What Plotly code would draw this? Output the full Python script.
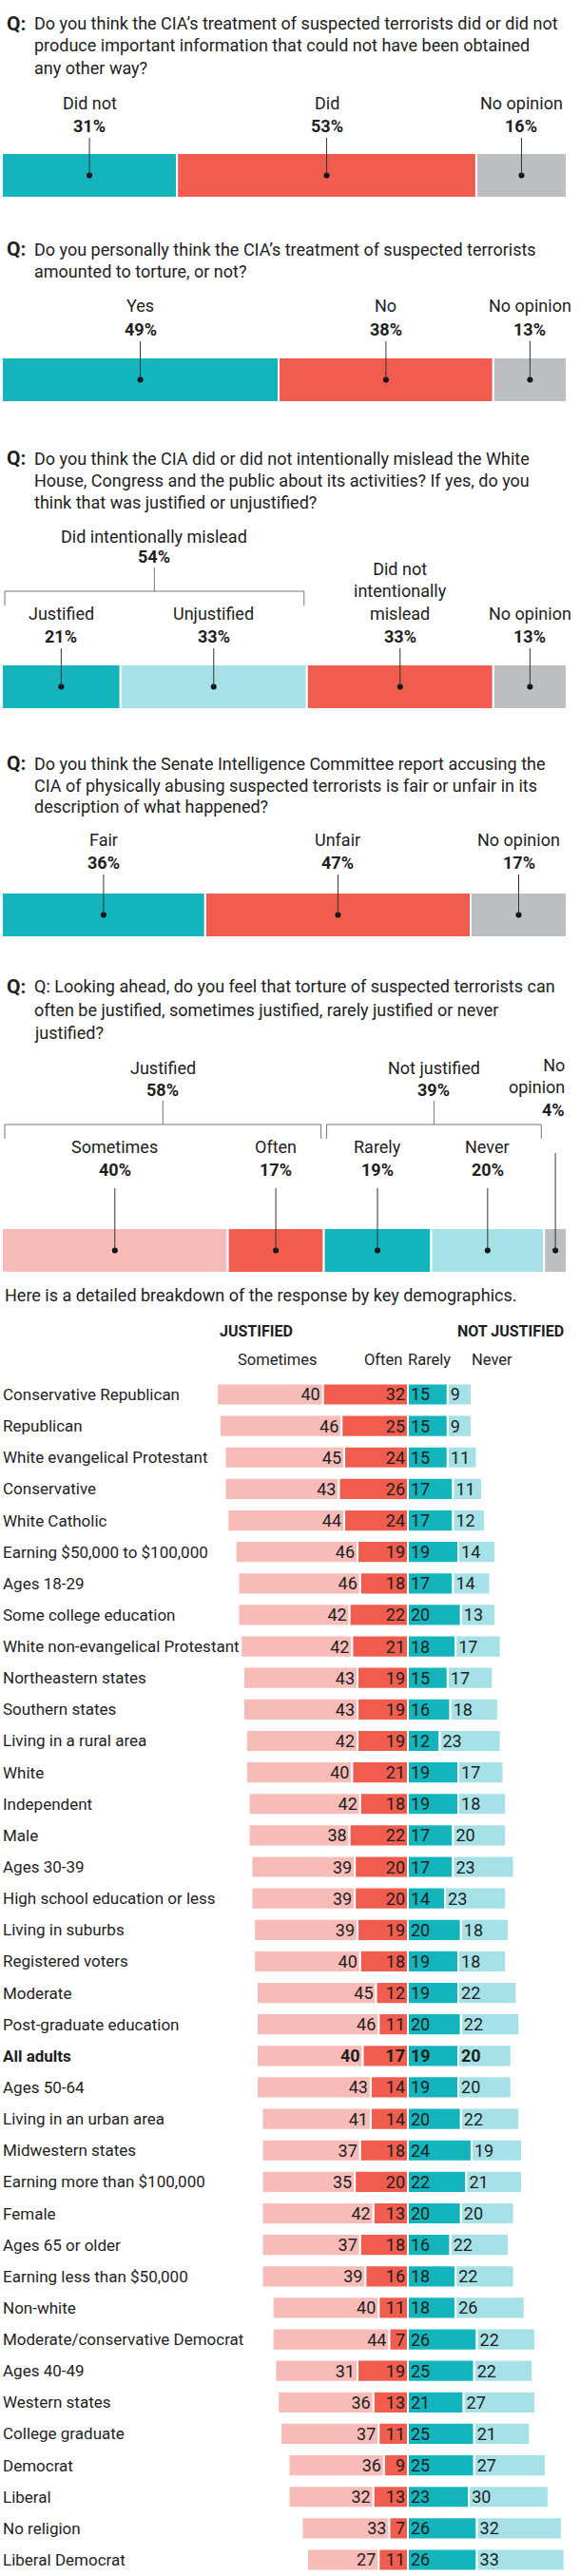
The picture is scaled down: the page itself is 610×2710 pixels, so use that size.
import plotly.graph_objects as go

W, H = 610, 2710
TEAL = "#14b4bc"
RED = "#f05d4f"
GRAY = "#bdbec2"
LTEAL = "#a5e1e6"
PINK = "#f7bbb8"
INK = "#1e1e1e"
LINE = "#333333"
FONT = "Roboto, Liberation Sans, Arial, sans-serif"

# ---------------- data ----------------
q1_lines = ["Do you think the CIA\u2019s treatment of suspected terrorists did or did not",
            "produce important information that could not have been obtained",
            "any other way?"]
q1_cats = ["Did not", "Did", "No opinion"]
q1_vals = [31, 53, 16]

q2_lines = ["Do you personally think the CIA\u2019s treatment of suspected terrorists",
            "amounted to torture, or not?"]
q2_cats = ["Yes", "No", "No opinion"]
q2_vals = [49, 38, 13]

q3_lines = ["Do you think the CIA did or did not intentionally mislead the White",
            "House, Congress and the public about its activities? If yes, do you",
            "think that was justified or unjustified?"]
q3_cats = ["Justified", "Unjustified", "Did not<br>intentionally<br>mislead", "No opinion"]
q3_vals = [21, 33, 33, 13]
q3_group_names = ["Did intentionally mislead"]
q3_group_vals = [54]

q4_lines = ["Do you think the Senate Intelligence Committee report accusing the",
            "CIA of physically abusing suspected terrorists is fair or unfair in its",
            "description of what happened?"]
q4_cats = ["Fair", "Unfair", "No opinion"]
q4_vals = [36, 47, 17]

q5_lines = ["Q: Looking ahead, do you feel that torture of suspected terrorists can",
            "often be justified, sometimes justified, rarely justified or never",
            "justified?"]
q5_cats = ["Sometimes", "Often", "Rarely", "Never", "No<br>opinion"]
q5_vals = [40, 17, 19, 20, 4]
q5_group_names = ["Justified", "Not justified"]
q5_group_vals = [58, 39]

intro = "Here is a detailed breakdown of the response by key demographics."
table_headers = ["JUSTIFIED", "NOT JUSTIFIED"]
table_sub = ["Sometimes", "Often", "Rarely", "Never"]

demo_labels = ["Conservative Republican", "Republican", "White evangelical Protestant",
               "Conservative", "White Catholic", "Earning $50,000 to $100,000", "Ages 18-29",
               "Some college education", "White non-evangelical Protestant",
               "Northeastern states", "Southern states", "Living in a rural area", "White",
               "Independent", "Male", "Ages 30-39", "High school education or less",
               "Living in suburbs", "Registered voters", "Moderate", "Post-graduate education",
               "All adults", "Ages 50-64", "Living in an urban area", "Midwestern states",
               "Earning more than $100,000", "Female", "Ages 65 or older",
               "Earning less than $50,000", "Non-white", "Moderate/conservative Democrat",
               "Ages 40-49", "Western states", "College graduate", "Democrat", "Liberal",
               "No religion", "Liberal Democrat"]
sometimes = [40, 46, 45, 43, 44, 46, 46, 42, 42, 43, 43, 42, 40, 42, 38, 39, 39, 39, 40, 45,
             46, 40, 43, 41, 37, 35, 42, 37, 39, 40, 44, 31, 36, 37, 36, 32, 33, 27]
often = [32, 25, 24, 26, 24, 19, 18, 22, 21, 19, 19, 19, 21, 18, 22, 20, 20, 19, 18, 12,
         11, 17, 14, 14, 18, 20, 13, 18, 16, 11, 7, 19, 13, 11, 9, 13, 7, 11]
rarely = [15, 15, 15, 17, 17, 19, 17, 20, 18, 15, 16, 12, 19, 19, 17, 17, 14, 20, 19, 19,
          20, 19, 19, 20, 24, 22, 20, 16, 18, 18, 26, 25, 21, 25, 25, 23, 26, 26]
never = [9, 9, 11, 11, 12, 14, 14, 13, 17, 17, 18, 23, 17, 18, 20, 23, 23, 18, 18, 22,
         22, 20, 20, 22, 19, 21, 20, 22, 22, 26, 22, 22, 27, 21, 27, 30, 32, 33]
highlight = "All adults"


def py(y):
    return 1 - y / H


def pxn(x):
    return x / W


fig = go.Figure()
annotations = []
shapes = []
layout_axes = {}


def add_text(text, x, y, size=18, bold=False, xanchor="center", yanchor="middle",
             xref="paper", yref="paper", align="center", color=INK):
    if bold:
        text = "<b>" + text.replace("<br>", "</b><br><b>") + "</b>"
    annotations.append(dict(text=text, x=x, y=y, xref=xref, yref=yref, xanchor=xanchor,
                            yanchor=yanchor, showarrow=False, align=align,
                            font=dict(family=FONT, size=size, color=color)))


def add_question(n, lines, line_ys, cats, vals, colors, pct_y, leader_top, bar_top, bar_bot,
                 groups=None, overrides=None):
    xa = "x" if n == 1 else f"x{n}"
    ya = "y" if n == 1 else f"y{n}"
    layout_axes["xaxis" if n == 1 else f"xaxis{n}"] = dict(
        domain=[pxn(2), pxn(596)], range=[0, 100], visible=False, fixedrange=True,
        anchor=ya)
    layout_axes["yaxis" if n == 1 else f"yaxis{n}"] = dict(
        domain=[py(bar_bot + 1), py(bar_top - 1)], range=[-0.5, 0.5], visible=False,
        fixedrange=True, anchor=xa)
    # question text
    add_text("Q:", pxn(5), py(line_ys[0]), size=21, bold=True, xanchor="left")
    for ln, ly in zip(lines, line_ys):
        add_text(ln, pxn(34), py(ly), size=18, xanchor="left", align="left")
    # bars
    starts = []
    acc = 0
    for v in vals:
        starts.append(acc)
        acc += v
    centers = [s + v / 2 for s, v in zip(starts, vals)]
    for c, v, s, col in zip(cats, vals, starts, colors):
        fig.add_trace(go.Bar(x=[v], y=[0], base=[s], orientation="h", width=1,
                             marker=dict(color=col, line=dict(color="white", width=2)),
                             xaxis=xa, yaxis=ya, showlegend=False, hoverinfo="skip"))
    fig.add_trace(go.Scatter(x=centers, y=[0] * len(centers), mode="markers",
                             marker=dict(color="#111", size=6), xaxis=xa, yaxis=ya,
                             showlegend=False, hoverinfo="skip"))
    overrides = overrides or {}
    for i, (c, v, cx) in enumerate(zip(cats, vals, centers)):
        o = overrides.get(i, {})
        p_y = o.get("pct_y", pct_y)
        l_top = o.get("leader_top", leader_top)
        xanchor = o.get("xanchor", "center")
        lx = o.get("label_x", cx)
        nlines = c.count("<br>") + 1
        cat_center = p_y - 24 - (nlines - 1) * 23.4 / 2
        add_text(c, lx, py(cat_center), size=18, xanchor=xanchor, xref=xa,
                 align="right" if xanchor == "right" else "center")
        add_text(f"{v}%", lx, py(p_y), size=18, bold=True, xanchor=xanchor, xref=xa)
        dot_y = (bar_top + bar_bot) / 2
        shapes.append(dict(type="line", xref=xa, yref="paper", x0=cx, x1=cx,
                           y0=py(l_top), y1=py(dot_y), line=dict(color=LINE, width=1)))
    for g in (groups or []):
        name, gval, idx, name_y, gpct_y, vtop, br_y, br_end = g
        gs = starts[idx[0]]
        ge = starts[idx[-1]] + vals[idx[-1]]
        x0, x1 = gs + 0.5, ge - 0.5
        mid = (x0 + x1) / 2
        add_text(name, mid, py(name_y), size=18, xref=xa)
        add_text(f"{gval}%", mid, py(gpct_y), size=18, bold=True, xref=xa)
        shapes.append(dict(type="path", xref=xa, yref="paper",
                           path=f"M {x0},{py(br_end)} L {x0},{py(br_y)} L {x1},{py(br_y)} L {x1},{py(br_end)}",
                           line=dict(color="#777", width=1)))
        shapes.append(dict(type="line", xref=xa, yref="paper", x0=mid, x1=mid,
                           y0=py(vtop), y1=py(br_y), line=dict(color="#777", width=1)))


add_question(1, q1_lines, [25, 48, 72], q1_cats, q1_vals, [TEAL, RED, GRAY],
             132, 145, 162, 207)
add_question(2, q2_lines, [262, 285], q2_cats, q2_vals, [TEAL, RED, GRAY],
             346, 359, 377, 422)
add_question(3, q3_lines, [482, 505, 528], q3_cats, q3_vals, [TEAL, LTEAL, RED, GRAY],
             669, 682, 700, 745,
             groups=[(q3_group_names[0], q3_group_vals[0], [0, 1], 564, 586, 597, 622, 637)])
add_question(4, q4_lines, [803, 826, 849], q4_cats, q4_vals, [TEAL, RED, GRAY],
             907, 920, 940, 985)
add_question(5, q5_lines, [1038, 1062, 1086], q5_cats, q5_vals,
             [PINK, RED, TEAL, LTEAL, GRAY], 1230, 1250, 1293, 1338,
             groups=[(q5_group_names[0], q5_group_vals[0], [0, 1], 1123, 1146, 1158, 1183, 1198),
                     (q5_group_names[1], q5_group_vals[1], [2, 3], 1123, 1146, 1158, 1183, 1198)],
             overrides={4: dict(pct_y=1168, leader_top=1213, xanchor="right", label_x=100)})

add_text(intro, pxn(3), py(1362), size=18, xanchor="left", align="left")

# ---------------- table ----------------
ZERO_PX = 429
PX_PER = 2.79
layout_axes["xaxis6"] = dict(domain=[0, 1], range=[-ZERO_PX / PX_PER, (W - ZERO_PX) / PX_PER],
                             visible=False, fixedrange=True, anchor="y6")
first_row, last_row = 1467, 2693
step = (last_row - first_row) / (len(demo_labels) - 1)
top_px = first_row - step / 2
bot_px = last_row + step / 2
layout_axes["yaxis6"] = dict(domain=[py(bot_px), py(top_px)], type="category",
                             categoryorder="array", categoryarray=demo_labels,
                             range=[len(demo_labels) - 0.5, -0.5], visible=False,
                             fixedrange=True, anchor="x6")


def fmt(vals):
    return [f"<b>{v}</b>" if lab == highlight else str(v) for v, lab in zip(vals, demo_labels)]


series = [
    (sometimes, [-(s + o) for s, o in zip(sometimes, often)], PINK, "end"),
    (often, [-o for o in often], RED, "end"),
    (rarely, [0] * len(rarely), TEAL, "start"),
    (never, rarely, LTEAL, "start"),
]
for vals, base, col, anchor in series:
    fig.add_trace(go.Bar(x=vals, y=demo_labels, base=base, orientation="h", width=0.7,
                         marker=dict(color=col, line=dict(color="white", width=2)),
                         text=fmt(vals), textposition="inside", insidetextanchor=anchor,
                         textangle=0, constraintext="none",
                         insidetextfont=dict(family=FONT, size=18, color=INK),
                         xaxis="x6", yaxis="y6", showlegend=False, hoverinfo="skip",
                         cliponaxis=False))

for lab in demo_labels:
    add_text(lab, 0.001, lab, size=17, bold=(lab == highlight), xanchor="left", yref="y6",
             align="left")

add_text(table_headers[0], pxn(229), py(1400), size=16, bold=True, xanchor="left")
add_text(table_headers[1], pxn(595), py(1400), size=16, bold=True, xanchor="right")
for t, cx in zip(table_sub, [292, 403, 451, 517]):
    add_text(t, pxn(cx), py(1430), size=16.5)

fig.update_layout(
    width=W, height=H, margin=dict(l=0, r=0, t=0, b=0),
    paper_bgcolor="white", plot_bgcolor="white",
    barmode="overlay", showlegend=False,
    annotations=annotations, shapes=shapes,
    font=dict(family=FONT, color=INK),
    **layout_axes,
)

fig.write_html("out.html", post_script="document.body.style.margin='0';",
               config={"displayModeBar": False})
